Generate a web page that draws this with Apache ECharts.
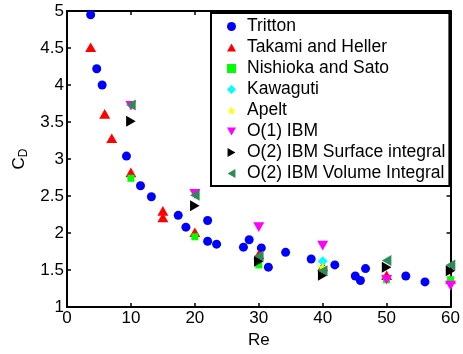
<!DOCTYPE html>
<html>
<head>
<meta charset="utf-8">
<script src="https://cdn.jsdelivr.net/npm/echarts@6/dist/echarts.min.js"></script>
<style>
  html, body { margin: 0; padding: 0; background: #ffffff; }
  #chart { width: 463px; height: 354px; }
</style>
</head>
<body>
<div id="chart"></div>
<script>
// Drag coefficient of a circular cylinder versus Reynolds number
const xTicks = [0, 10, 20, 30, 40, 50, 60];
const yTicks = [1, 1.5, 2, 2.5, 3, 3.5, 4, 4.5, 5];

const trittonRe = [3.7, 4.65, 5.5, 9.3, 11.5, 13.2, 17.4, 18.6, 22, 22, 23.4, 27.6, 28.5, 30.4, 31.5, 34.2, 38.2, 41.9, 45.1, 45.9, 46.7, 53, 56];
const trittonCd = [4.95, 4.22, 4.0, 3.04, 2.64, 2.49, 2.24, 2.08, 2.17, 1.89, 1.85, 1.81, 1.91, 1.80, 1.54, 1.74, 1.65, 1.57, 1.42, 1.36, 1.52, 1.42, 1.34];

const takamiRe = [3.7, 5.9, 7, 10, 15, 15, 20, 30, 40, 50, 60];
const takamiCd = [4.51, 3.61, 3.28, 2.82, 2.30, 2.21, 2.01, 1.71, 1.55, 1.43, 1.38];

const nishiokaRe = [10, 20, 30, 40, 50, 60];
const nishiokaCd = [2.74, 1.95, 1.57, 1.50, 1.37, 1.37];

const kawagutiRe = [40];
const kawagutiCd = [1.62];

const apeltRe = [40];
const apeltCd = [1.54];

const ibm1Re = [10, 20, 30, 40, 50, 60];
const ibm1Cd = [3.72, 2.53, 2.08, 1.83, 1.37, 1.29];

const ibm2SurfRe = [10, 20, 30, 40, 50, 60];
const ibm2SurfCd = [3.51, 2.37, 1.62, 1.43, 1.54, 1.49];

const ibm2VolRe = [10, 20, 30, 40, 50, 60];
const ibm2VolCd = [3.73, 2.51, 1.69, 1.49, 1.63, 1.57];

const FONT = '"Liberation Sans", Arial, Helvetica, sans-serif';

// Marker shapes
const STAR = 'path://M50,0 L61.8,36.2 L100,36.2 L69.1,58.8 L80.9,95.1 L50,72.7 L19.1,95.1 L30.9,58.8 L0,36.2 L38.2,36.2 Z';
const TRI_UP = 'path://M50,0 L100,87 L0,87 Z';
const TRI_DOWN = 'path://M0,0 L100,0 L50,87 Z';
const TRI_RIGHT = 'path://M0,0 L87,50 L0,100 Z';
const TRI_LEFT = 'path://M87,0 L0,50 L87,100 Z';

function pairs(xs, ys) { return xs.map((x, i) => [x, ys[i]]); }

function scatter(name, xs, ys, color, symbol, size) {
  return {
    name: name,
    type: 'scatter',
    data: pairs(xs, ys),
    symbol: symbol,
    symbolSize: size,
    symbolKeepAspect: true,
    clip: false,
    itemStyle: { color: color, opacity: 1 },
    emphasis: { disabled: true }
  };
}

const chart = echarts.init(document.getElementById('chart'), null, { renderer: 'canvas' });

const axisLine = { show: true, onZero: false, lineStyle: { color: '#000', width: 2 } };
const tickIn = { show: true, inside: true, length: 4, lineStyle: { color: '#000', width: 1.5 } };

chart.setOption({
  animation: false,
  backgroundColor: '#ffffff',
  textStyle: { fontFamily: FONT },
  grid: { left: 67, right: 9, top: 11, bottom: 39, containLabel: false },
  xAxis: [
    {
      type: 'value', position: 'bottom',
      min: xTicks[0], max: xTicks[xTicks.length - 1], interval: xTicks[1] - xTicks[0],
      name: 'Re', nameLocation: 'middle', nameGap: 22,
      nameTextStyle: { fontSize: 17, color: '#000', fontFamily: FONT },
      axisLine: axisLine, axisTick: tickIn,
      axisLabel: { fontSize: 17, color: '#000', margin: 3, fontFamily: FONT },
      splitLine: { show: false }
    },
    {
      type: 'value', position: 'top',
      min: xTicks[0], max: xTicks[xTicks.length - 1], interval: xTicks[1] - xTicks[0],
      axisLine: axisLine, axisTick: tickIn,
      axisLabel: { show: false }, splitLine: { show: false }
    }
  ],
  yAxis: [
    {
      type: 'value', position: 'left',
      min: yTicks[0], max: yTicks[yTicks.length - 1], interval: yTicks[1] - yTicks[0],
      name: 'C{d|D}', nameLocation: 'middle', nameGap: 36, nameRotate: 90,
      nameTextStyle: {
        fontSize: 17, color: '#000', fontFamily: FONT,
        rich: { d: { fontSize: 12, color: '#000', fontFamily: FONT, padding: [9, 0, 0, 0] } }
      },
      axisLine: axisLine, axisTick: tickIn,
      axisLabel: { fontSize: 17, color: '#000', margin: 3, fontFamily: FONT },
      splitLine: { show: false }
    },
    {
      type: 'value', position: 'right',
      min: yTicks[0], max: yTicks[yTicks.length - 1], interval: yTicks[1] - yTicks[0],
      axisLine: axisLine, axisTick: tickIn,
      axisLabel: { show: false }, splitLine: { show: false }
    }
  ],
  legend: {
    orient: 'vertical',
    left: 211, top: 13,
    padding: [3, 4, 2, 16],
    itemWidth: 9, itemHeight: 9, itemGap: 0,
    symbolRotate: 0,
    backgroundColor: '#ffffff',
    borderColor: '#000', borderWidth: 2, borderRadius: 0,
    selectedMode: false,
    textStyle: { fontSize: 17.5, color: '#000', fontFamily: FONT, lineHeight: 21, padding: [0, 0, 0, 6] },
    data: ['Tritton', 'Takami and Heller', 'Nishioka and Sato', 'Kawaguti', 'Apelt',
           'O(1) IBM', 'O(2) IBM Surface integral', 'O(2) IBM Volume Integral']
  },
  series: [
    scatter('Tritton', trittonRe, trittonCd, '#0000ff', 'circle', 9),
    scatter('Takami and Heller', takamiRe, takamiCd, '#ff0000', TRI_UP, 11),
    scatter('Nishioka and Sato', nishiokaRe, nishiokaCd, '#00ff00', 'rect', 7),
    scatter('Kawaguti', kawagutiRe, kawagutiCd, '#00ffff', 'diamond', 10),
    scatter('Apelt', apeltRe, apeltCd, '#ffff00', STAR, 11),
    scatter('O(1) IBM', ibm1Re, ibm1Cd, '#ff00ff', TRI_DOWN, 11),
    scatter('O(2) IBM Surface integral', ibm2SurfRe, ibm2SurfCd, '#000000', TRI_RIGHT, 11),
    scatter('O(2) IBM Volume Integral', ibm2VolRe, ibm2VolCd, '#2e8b57', TRI_LEFT, 11)
  ]
});
</script>
</body>
</html>
